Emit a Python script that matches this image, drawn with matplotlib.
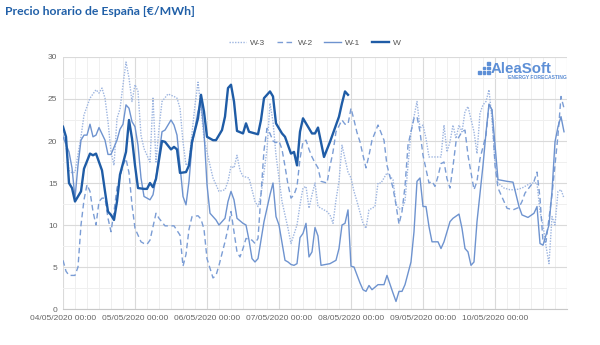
import matplotlib

matplotlib.use("Agg")
import matplotlib.dates as mdates
import matplotlib.pyplot as plt
import pandas as pd
from matplotlib.patches import Rectangle
from matplotlib.ticker import FuncFormatter

START = pd.Timestamp("2020-05-04 00:00")

# hours since 04/05/2020 00:00 and prices (EUR/MWh)
w_hours = [0, 1, 2, 3, 4, 6, 7, 9, 10, 11, 13, 14, 15, 16, 17, 18, 19, 21, 22, 23,
           24, 25, 27, 28, 29, 30, 31, 33, 34, 36, 37, 38, 39, 41, 42, 43, 45, 46, 47, 48,
           50, 51, 53, 54, 55, 56, 57, 58, 60, 61, 62, 64, 65, 66, 67, 69, 70, 71, 73, 74,
           76, 77, 78, 79, 80, 82, 83, 84, 85, 87, 89, 91, 92, 93, 94, 95]
w_vals = [21.7, 20.5, 15.0, 14.4, 12.8, 14.0, 16.7, 18.5, 18.3, 18.5, 16.5, 14.0, 11.6, 11.2, 10.6, 12.8, 16.0, 18.7, 22.5, 20.3,
          17.1, 14.4, 14.3, 14.3, 15.0, 14.5, 15.5, 20.0, 19.9, 19.0, 19.3, 19.0, 16.2, 16.3, 17.1, 19.9, 22.7, 25.5, 23.5, 20.5,
          20.1, 20.1, 21.3, 22.9, 26.3, 26.7, 24.7, 21.2, 20.9, 22.1, 21.1, 20.9, 20.8, 22.5, 25.1, 25.9, 25.3, 22.1, 20.9, 20.5,
          18.5, 18.7, 17.1, 21.1, 22.7, 21.5, 20.9, 20.9, 21.6, 18.1, 19.9, 21.9, 22.9, 24.5, 25.9, 25.5]

w1_hours = [0, 2, 3, 4, 5, 6, 7, 8, 9, 10, 11, 12, 14, 15, 16, 18, 19, 20, 21, 22,
            23, 24, 25, 26, 27, 29, 30, 31, 33, 34, 36, 37, 38, 39, 40, 41, 42, 43, 45, 46,
            47, 48, 49, 51, 52, 54, 55, 56, 57, 58, 60, 61, 62, 63, 64, 65, 67, 69, 70, 71,
            72, 74, 75, 76, 77, 78, 79, 80, 81, 82, 83, 84, 85, 86, 89, 90, 91, 92, 93, 94,
            95, 96, 97, 99, 100, 101, 102, 103, 105, 107, 108, 110, 111, 112, 113, 114, 116, 117, 118, 119,
            120, 121, 122, 123, 125, 126, 127, 129, 130, 132, 133, 134, 135, 136, 137, 138, 140, 141, 142, 143,
            144, 145, 148, 150, 152, 153, 155, 157, 158, 159, 160, 162, 163, 164, 165, 166, 167]
w1_vals = [20.5, 18.7, 16.8, 13.2, 17.1, 20.1, 20.7, 20.7, 22.0, 20.5, 20.7, 21.6, 20.1, 18.4, 18.4, 20.1, 21.4, 22.0, 24.3, 23.9,
           22.3, 21.7, 19.5, 15.6, 13.4, 13.0, 13.6, 15.6, 21.1, 21.3, 22.5, 21.9, 20.7, 17.1, 13.4, 12.4, 15.2, 19.5, 23.5, 24.7,
           21.1, 14.8, 11.4, 10.6, 10.0, 10.8, 12.8, 14.0, 13.0, 10.8, 10.2, 10.0, 8.2, 6.0, 5.6, 6.0, 10.4, 13.6, 15.0, 11.0,
           10.0, 5.8, 5.6, 5.3, 5.2, 5.4, 8.5, 9.0, 10.2, 6.2, 6.8, 9.7, 8.7, 5.2, 5.4, 5.6, 5.8, 7.2, 10.0, 10.2,
           11.8, 5.1, 5.0, 3.1, 2.3, 2.1, 2.8, 2.3, 2.9, 2.9, 4.0, 1.9, 0.9, 2.1, 2.1, 2.9, 5.6, 9.2, 15.2, 15.6,
           12.2, 12.2, 9.8, 8.0, 8.0, 7.2, 8.0, 10.4, 10.8, 11.3, 9.6, 7.2, 6.8, 5.2, 5.6, 10.4, 17.1, 21.0, 24.4, 23.7,
           19.5, 15.4, 15.2, 15.1, 12.2, 11.2, 10.9, 11.4, 12.2, 7.8, 7.6, 10.0, 14.0, 19.9, 21.7, 22.9, 21.1]

w2_hours = [0, 1, 2, 4, 5, 6, 7, 8, 9, 10, 11, 12, 13, 14, 15, 16, 17, 18, 20, 21,
            22, 23, 24, 26, 27, 28, 29, 31, 32, 34, 36, 37, 39, 40, 41, 42, 43, 45, 46, 47,
            48, 50, 51, 52, 54, 55, 56, 57, 58, 59, 60, 61, 63, 64, 65, 66, 67, 68, 69, 70,
            71, 72, 73, 74, 75, 76, 77, 78, 79, 80, 81, 82, 83, 84, 85, 86, 88, 89, 90, 91,
            93, 94, 95, 96, 97, 98, 99, 100, 101, 102, 103, 104, 105, 107, 108, 110, 111, 112, 113, 114,
            115, 116, 117, 118, 119, 120, 122, 123, 124, 125, 126, 127, 128, 129, 130, 131, 133, 134, 135, 137,
            138, 139, 141, 142, 143, 144, 145, 148, 150, 152, 153, 154, 157, 158, 159, 160, 161, 163, 164, 165,
            166, 167]
w2_vals = [5.8, 4.5, 4.0, 4.0, 5.0, 10.0, 13.0, 14.8, 14.0, 11.6, 10.0, 12.8, 13.2, 13.2, 10.8, 9.2, 11.6, 14.4, 17.1, 17.9,
           16.2, 12.4, 9.6, 8.0, 7.8, 7.7, 8.2, 11.4, 10.8, 9.9, 9.9, 9.9, 8.8, 5.1, 6.5, 9.5, 11.0, 11.1, 10.7, 9.5,
           6.0, 3.7, 4.0, 5.2, 8.0, 9.6, 11.6, 9.2, 6.8, 6.2, 7.2, 8.4, 8.2, 7.8, 8.4, 13.6, 18.9, 21.5, 20.9, 20.0,
           19.8, 20.0, 19.0, 17.0, 14.8, 13.2, 13.6, 14.6, 17.9, 19.9, 20.1, 19.0, 18.1, 17.4, 16.8, 15.2, 15.0, 17.0, 18.7, 21.1,
           22.5, 22.0, 22.0, 23.9, 22.5, 21.0, 19.9, 18.3, 16.8, 18.3, 20.1, 21.0, 21.9, 20.1, 17.1, 14.4, 12.4, 10.1, 11.6, 14.6,
           19.5, 21.1, 22.7, 22.9, 21.1, 18.3, 15.0, 15.2, 14.6, 15.8, 17.3, 17.5, 15.5, 14.4, 17.0, 19.9, 21.1, 21.3, 18.3, 14.2,
           15.2, 17.9, 20.7, 24.3, 23.7, 17.1, 14.4, 12.0, 11.8, 12.1, 12.8, 13.8, 15.2, 16.3, 13.2, 8.0, 8.0, 13.6, 17.1, 20.7,
           25.3, 23.9]

w3_hours = [0, 1, 2, 3, 4, 6, 7, 9, 11, 12, 13, 14, 15, 16, 17, 18, 19, 20, 21, 22,
            23, 24, 25, 26, 27, 29, 30, 31, 32, 33, 35, 37, 38, 39, 40, 41, 42, 44, 45, 46,
            47, 49, 50, 52, 54, 55, 56, 57, 58, 59, 60, 62, 64, 65, 66, 68, 69, 70, 71, 73,
            75, 76, 78, 79, 80, 81, 82, 83, 84, 85, 86, 88, 89, 90, 91, 92, 93, 94, 95, 96,
            97, 98, 100, 101, 102, 104, 105, 106, 107, 108, 110, 111, 112, 113, 114, 115, 116, 117, 118, 119,
            120, 121, 122, 124, 126, 127, 128, 129, 130, 131, 132, 133, 134, 135, 137, 138, 139, 140, 141, 142,
            143, 144, 145, 147, 149, 151, 153, 155, 156, 158, 159, 160, 161, 162, 163, 164, 165, 166, 167]
w3_vals = [21.1, 19.5, 16.5, 16.2, 16.3, 20.5, 23.1, 25.1, 26.1, 25.7, 26.3, 25.1, 22.3, 18.7, 17.1, 22.7, 23.8, 26.7, 29.4, 27.5,
           24.7, 26.7, 25.9, 20.7, 19.1, 17.5, 25.1, 17.5, 21.5, 24.7, 25.6, 25.3, 25.1, 23.9, 19.9, 17.1, 17.5, 24.3, 27.0, 23.9,
           20.3, 17.1, 15.6, 14.0, 14.2, 15.2, 17.0, 16.8, 18.3, 16.5, 15.8, 15.6, 12.8, 12.2, 13.6, 19.0, 24.5, 22.3, 18.3, 12.8,
           9.6, 7.8, 10.0, 12.4, 14.4, 14.6, 12.0, 13.6, 15.0, 12.2, 12.0, 11.6, 11.2, 10.2, 13.0, 15.2, 19.5, 17.9, 16.3, 15.6,
           14.0, 12.8, 10.2, 9.6, 11.8, 12.2, 15.0, 15.0, 15.6, 16.2, 15.4, 12.5, 11.9, 12.0, 12.8, 17.1, 21.1, 22.9, 24.7, 21.5,
           21.9, 20.3, 18.1, 18.1, 18.1, 21.9, 18.7, 19.9, 21.9, 20.3, 21.9, 21.1, 23.5, 24.1, 21.1, 18.5, 23.3, 24.3, 24.7, 26.1,
           22.5, 17.5, 15.0, 14.4, 14.2, 14.2, 14.4, 14.8, 15.0, 15.0, 11.6, 10.0, 7.5, 5.4, 11.0, 10.0, 14.0, 14.2, 13.2]

SERIES = [
    ("W-3", w3_hours, w3_vals, "#9db5e0", 1.0, (0, (1, 1))),
    ("W-2", w2_hours, w2_vals, "#7b9dd5", 1.0, (0, (4, 2.5))),
    ("W-1", w1_hours, w1_vals, "#6e93cf", 1.0, "-"),
    ("W", w_hours, w_vals, "#1f5ca6", 1.7, "-"),
]
LOGO_BLUE = "#5d8fd6"


def day_label(v, pos):
    d = mdates.num2date(v)
    return "" if d.day == 11 else d.strftime("%d/%m/%Y %H:%M")


fig = plt.figure(figsize=(6, 3.45), dpi=100)
ax = fig.add_axes([0.105, 0.1043, 0.84, 0.7305])

for name, hours, vals, color, lw, ls in SERIES:
    t = START + pd.to_timedelta(hours, unit="h")
    ax.plot(t, vals, color=color, linewidth=lw, linestyle=ls, label=name)

ax.set_xlim(START, START + pd.Timedelta(days=7))
ax.set_ylim(0, 30)
ax.set_yticks(range(0, 31, 5))
ax.set_yticks([2.5, 7.5, 12.5, 17.5, 22.5, 27.5], minor=True)
ax.xaxis.set_major_locator(mdates.DayLocator())
ax.xaxis.set_minor_locator(mdates.HourLocator(byhour=range(0, 24, 4)))
ax.xaxis.set_major_formatter(FuncFormatter(day_label))

ax.grid(which="major", color="#dadada", linewidth=0.8)
ax.grid(which="minor", color="#efefef", linewidth=0.7)
ax.set_axisbelow(True)
for side in ("top", "right", "left"):
    ax.spines[side].set_visible(False)
ax.spines["bottom"].set_color("#c8c8c8")
ax.tick_params(which="both", length=0, labelsize=6, labelcolor="#666666", pad=4)
for lbl in ax.get_xticklabels() + ax.get_yticklabels():
    lbl.set_family("Liberation Sans")

fig.text(0.008, 0.968, "Precio horario de España [€/MWh]", fontsize=8.8, fontweight="bold",
         color="#2160a8", family="Lato", ha="left", va="center")

leg = fig.legend(loc="center", bbox_to_anchor=(315 / 600, 1 - 43 / 345), ncol=4, frameon=False,
                 handlelength=2.0, handletextpad=0.5, columnspacing=1.4,
                 prop={"family": "Liberation Sans", "size": 6})
for txt in leg.get_texts():
    txt.set_color("#555555")

# AleaSoft logo
fig.text(0.817, 0.80, "AleaSoft", fontsize=10.8, fontweight="bold", color=LOGO_BLUE,
         family="Liberation Sans", ha="left", va="center")
fig.text(0.945, 0.775, "ENERGY FORECASTING", fontsize=3.6, fontweight="bold", color=LOGO_BLUE,
         family="Liberation Sans", ha="right", va="center")
for col in range(3):
    for row in range(col + 1):
        fig.patches.append(Rectangle((0.797 + col * 0.0075, 0.786 + row * 0.013), 0.0045, 0.0078,
                                     transform=fig.transFigure, color=LOGO_BLUE, zorder=5))

fig.savefig("out.png", dpi=100)
